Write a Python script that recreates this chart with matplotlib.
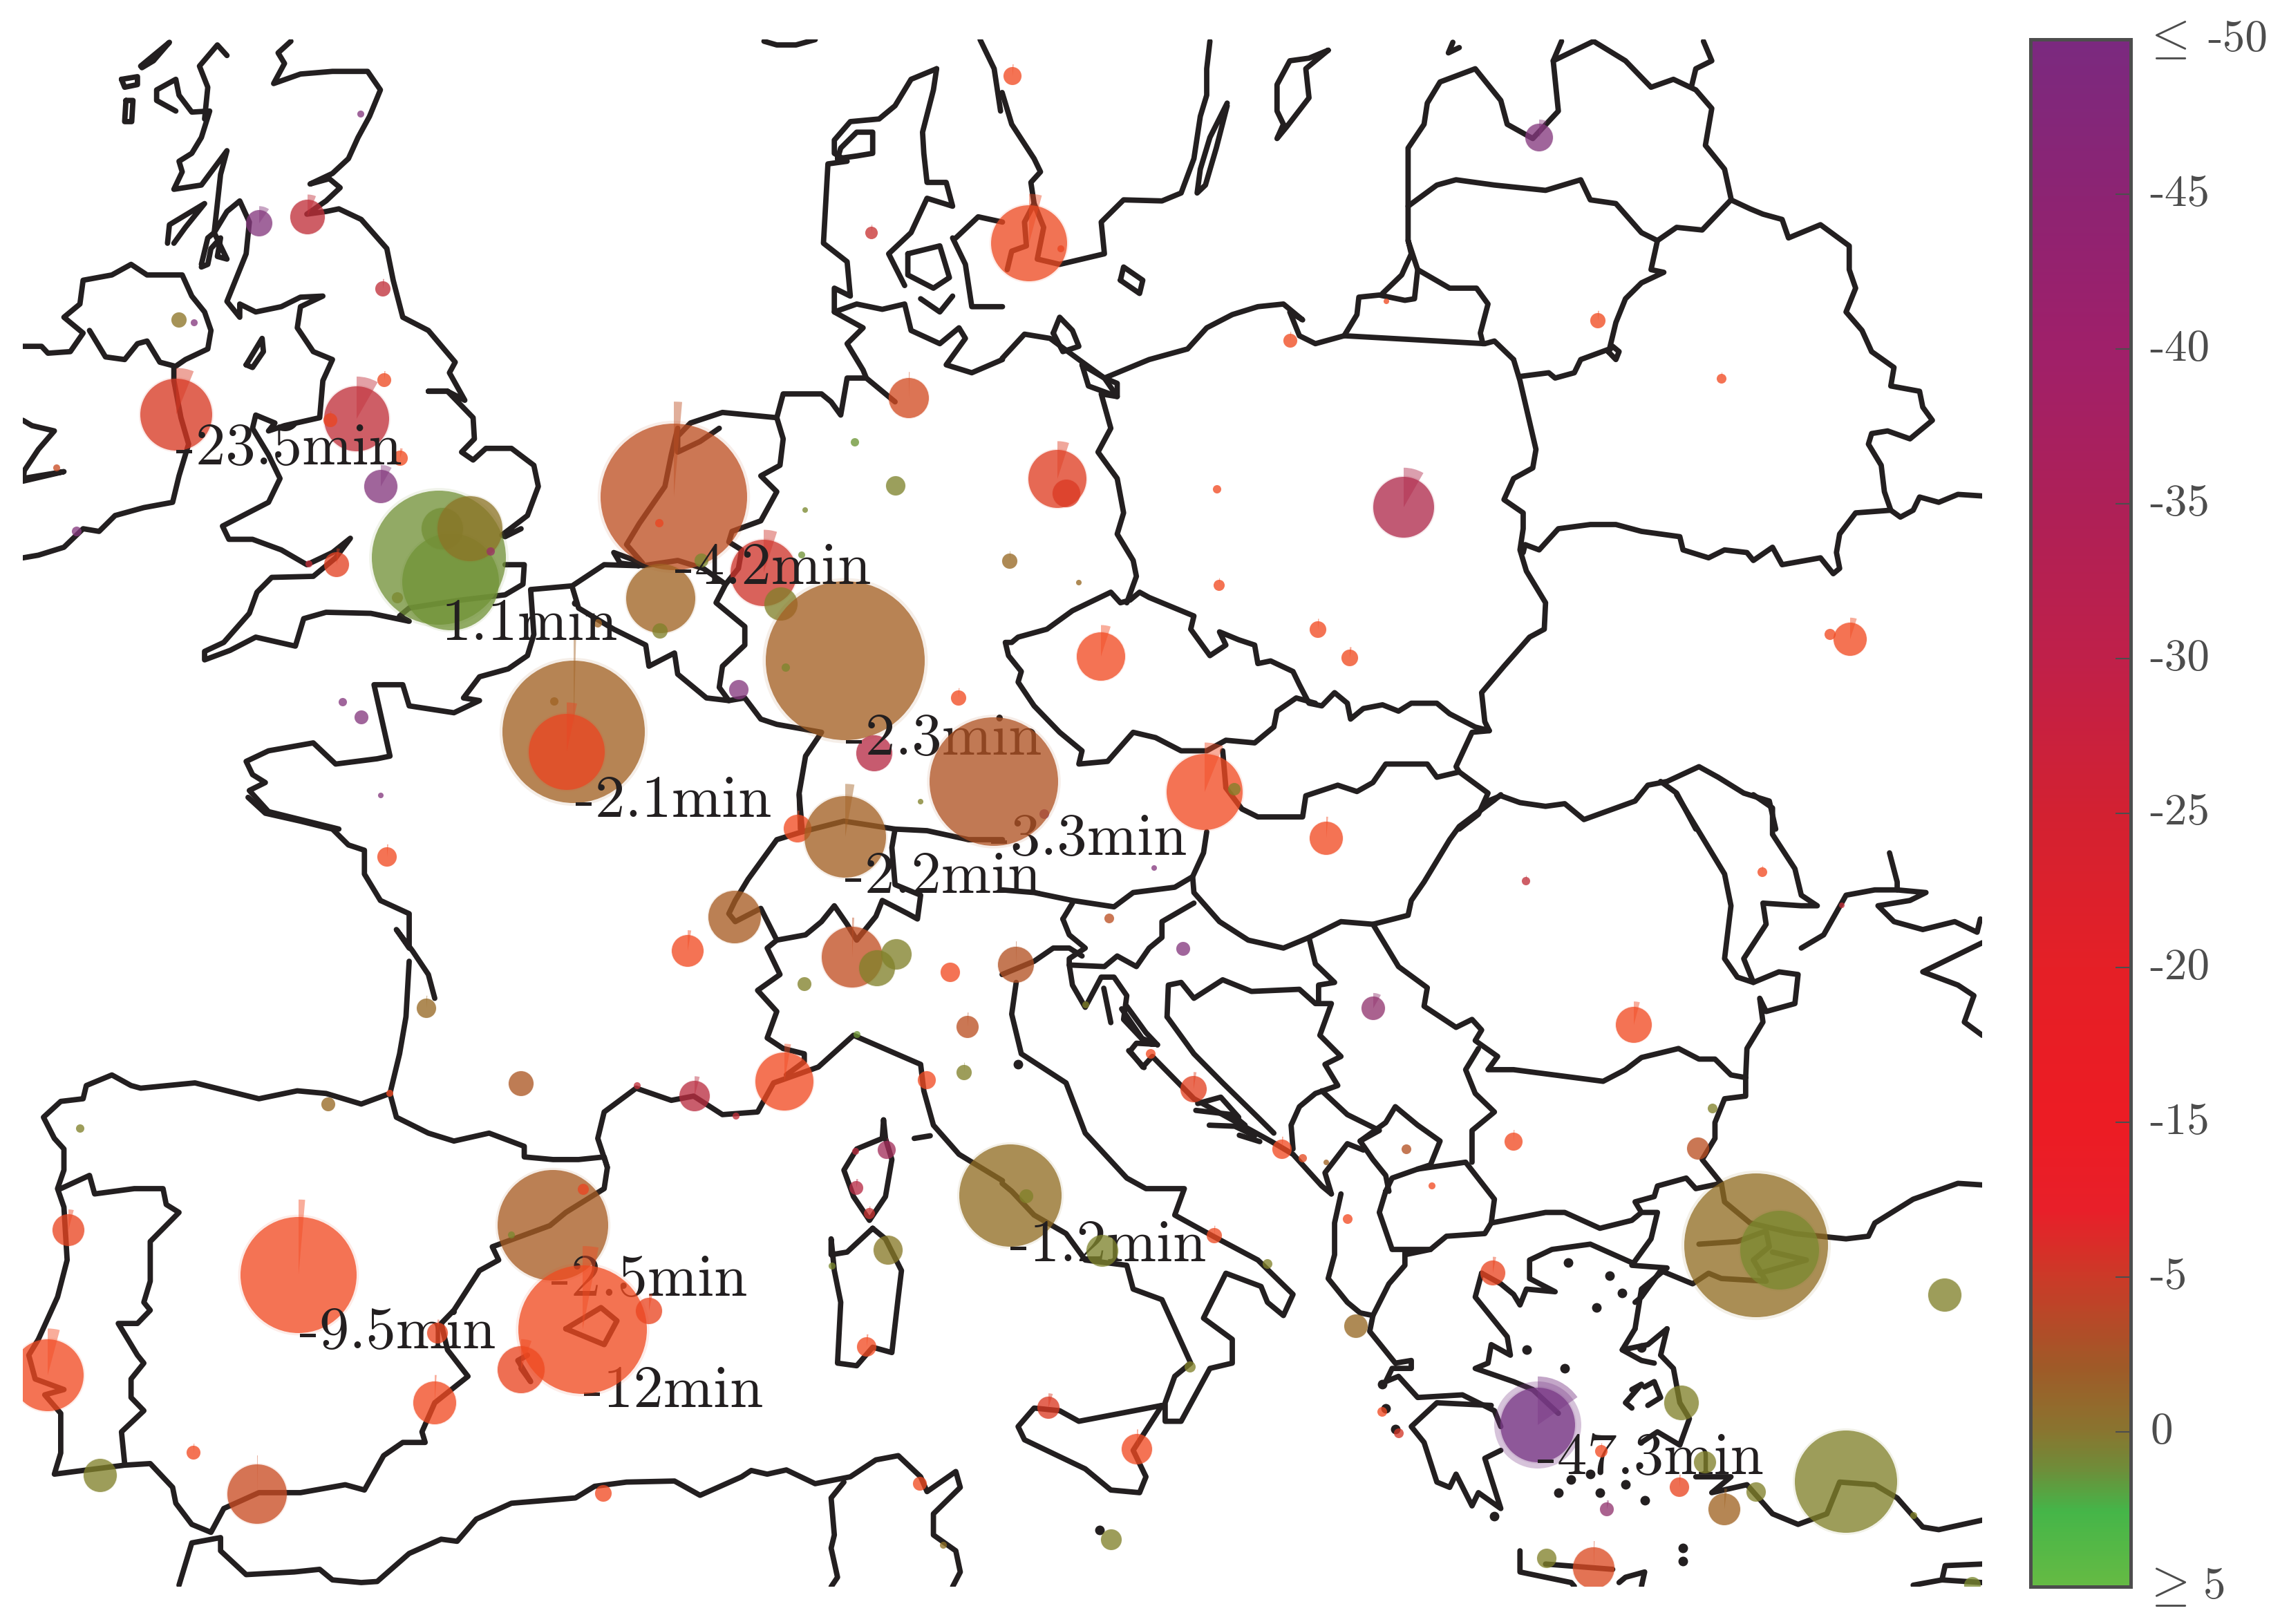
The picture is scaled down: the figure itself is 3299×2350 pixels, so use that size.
import numpy as np
import matplotlib
matplotlib.use('Agg')
import matplotlib.pyplot as plt
from matplotlib.colors import LinearSegmentedColormap, to_rgb
from matplotlib.patches import Circle, Wedge, Rectangle

plt.rcParams['font.family'] = ['cmr10', 'DejaVu Serif']
plt.rcParams['mathtext.fontset'] = 'cm'

coast_a = [
    [(455,78),(435,100),(445,120),(428,158),(470,140),(520,135),(575,135),(595,170),(578,220),(560,260),(545,300),(520,328),(485,348),(515,338),(532,355),(510,380),(480,405),(510,400),(530,395),(565,415),(605,470),(615,530),(630,600),(670,625),(712,685),(703,705),(727,757),(700,740),(670,740),(700,740),(740,790),(742,830),(722,855),(740,870),(760,848),(800,848),(835,880),(842,920),(825,975),(785,1012),(790,1015),(815,1000)],
    [(790,1068),(820,1068),(818,1105),(790,1125),(720,1135),(640,1150),(625,1165),(640,1175),(580,1160),(510,1158),(475,1170),(462,1222),(400,1205),(360,1230),(320,1248),(320,1232),(350,1215),(390,1160),(402,1120),(425,1092),(490,1090),(525,1055),(548,1018),(520,1045),(480,1068),(440,1040),(395,1020),(358,1020),(348,995),(380,975),(420,950),(438,905),(420,860),(395,810),(400,785),(430,800),(420,815),(445,805),(500,790),(505,720),(520,680),(490,665),(465,620),(470,580),(505,560),(470,562),(440,580),(400,590),(375,575),(375,600),(355,570),(385,480),(390,420),(375,380),(355,400),(335,440),(345,330),(355,285),(315,350),(272,358),(285,325),(280,305),(300,290),(315,260),(328,210),(300,212),(280,180),(275,150),(245,170),(245,190),(275,210)],
    [(320,225),(325,165),(312,125),(340,85),(355,105)],
    [(36,655),(65,655),(75,668),(110,665),(130,630),(100,600),(125,575),(130,530),(175,520),(205,500),(230,520),(285,520),(300,560),(320,590),(330,625),(325,660),(290,680),(272,695),(272,720),(283,790),(295,840),(280,900),(270,950),(225,960),(180,975),(155,1005),(130,1000),(100,1035),(60,1050),(36,1055)],
    [(140,625),(165,675),(195,680),(215,650),(230,645),(250,685),(272,692)],
    [(36,795),(50,805),(85,815),(60,850),(38,890),(36,910),(100,892),(60,900),(36,905)],
    [(190,150),(215,145),(215,160),(195,165),(190,150)],
    [(197,190),(208,190),(206,230),(195,230),(197,190)],
    [(220,125),(265,80),(240,115),(222,128)],
    [(385,690),(410,640),(412,665),(395,695),(385,690)],
    [(315,500),(325,450),(335,440),(355,490),(340,485),(345,450),(330,470),(325,500),(315,505)],
    [(262,460),(265,425),(320,385),(290,430),(272,460)],
    [(1533,75),(1555,130),(1565,210)],
    [(1195,78),(1215,85),(1245,85),(1275,75)],
    [(1465,130),(1425,150),(1400,200),(1375,225),(1330,230),(1305,265),(1305,290),(1325,305),(1295,310),(1288,460),(1325,495),(1330,560),(1305,545),(1305,590),(1340,575),(1380,585),(1415,575),(1425,625),(1470,650),(1500,620),(1510,640),(1480,690),(1520,705),(1568,680)],
    [(1465,130),(1460,170),(1443,250),(1445,290),(1450,345),(1480,345),(1490,390),(1450,375),(1425,440),(1390,480),(1415,540)],
    [(1310,300),(1340,295),(1365,290),(1365,250),(1340,250),(1315,280),(1310,300)],
    [(1305,590),(1350,620),(1325,650),(1350,700),(1355,715),(1400,760)],
    [(1355,715),(1325,715),(1315,785),(1300,760),(1285,745),(1225,745),(1215,790),(1130,780),(1080,800),(1060,825),(1060,855),(1095,835),(1125,810)],
    [(1215,790),(1225,830),(1220,880),(1190,900),(1215,930),(1190,985),(1145,1005),(1140,1025),(1160,1040),(1155,1075),(1135,1105)],
    [(1060,810),(1050,860),(1040,920),(1000,990),(980,1030),(1005,1065),(960,1045),(970,1065),(1000,1070),(945,1068),(895,1108),(830,1115),(835,1200),(825,1240),(795,1265),(750,1280),(725,1320),(750,1325),(710,1348),(640,1335),(630,1295),(585,1295),(610,1430),(590,1435),(525,1445),(490,1405),(420,1420),(385,1440),(395,1465),(415,1480),(390,1495),(420,1535),(530,1568)],
    [(895,1110),(905,1150),(960,1190),(1010,1220),(1015,1260),(1055,1235),(1060,1275),(1105,1320),(1140,1325),(1165,1320),(1190,1360),(1215,1370),(1285,1385),(1260,1430),(1250,1500),(1252,1568)],
    [(1005,1070),(1060,1060),(1100,1075),(1135,1105),(1120,1140),(1165,1185),(1165,1220),(1130,1260),(1125,1300),(1140,1325)],
    [(1420,480),(1470,465),(1485,525),(1460,545),(1420,520),(1420,480)],
    [(1495,450),(1530,410),(1568,420)],
    [(1490,450),(1510,500),(1520,580),(1568,580)],
    [(1440,565),(1470,590),(1490,560)],
]
coast_b = [
    [(325,78),(320,130),(320,180),(310,220),(300,300),(280,365),(250,380),(190,378),(155,420),(160,480),(125,490),(90,500),(55,490),(65,430),(50,385),(45,345),(60,325),(50,300),(15,235),(0,175)],
    [(50,385),(35,420),(38,465),(15,475),(8,510)],
    [(352,195),(325,260),(310,320),(305,365),(318,350),(335,280),(352,200)],
    [(510,95),(480,110),(450,115),(430,160),(430,210),(440,235),(430,262),(445,240),(480,185),(475,130),(510,95)],
    [(705,80),(698,100),(715,90)],
    [(185,530),(190,505),(220,530),(215,555),(185,530)],
    [(635,455),(635,280),(660,235),(665,195),(685,155),(740,130),(780,190),(790,235),(830,262),(870,210),(862,115),(925,78),(975,115),(1015,165),(1050,150),(1085,170),(1110,205),(1100,275),(1130,320),(1140,375)],
    [(1097,78),(1110,115),(1085,130),(1078,165)],
    [(875,78),(862,115)],
    [(635,390),(680,350),(710,340),(770,350),(850,360),(905,340),(920,378),(960,385),(1000,440),(1025,455),(1055,430),(1095,435),(1140,378)],
    [(1140,378),(1170,395),(1190,405),(1220,415),(1230,450),(1280,425),(1325,465),(1325,510),(1335,545),(1320,590),(1345,625),(1360,665),(1395,695),(1390,730),(1435,740),(1440,770),(1455,795),(1420,830),(1385,815),(1360,820),(1355,840),(1375,880),(1380,930),(1390,965),(1405,978),(1425,965),(1435,940),(1465,950),(1495,935),(1533,938)],
    [(1390,965),(1335,970),(1310,1010),(1305,1045),(1310,1075),(1300,1085),(1280,1055),(1220,1068),(1205,1035),(1175,1060),(1165,1045),(1130,1040),(1105,1055),(1065,1040),(1060,1015),(1000,1005),(960,992),(920,992),(870,1000),(840,1040),(818,1030),(815,1045)],
    [(1025,455),(1015,510),(1035,515),(1000,535),(975,565),(960,610),(950,660),(905,680),(895,705),(865,715),(855,705),(810,712)],
    [(948,665),(955,655),(965,665),(960,680),(948,665)],
    [(800,680),(810,720),(835,850),(830,885),(800,905),(785,945),(815,970),(815,1000),(810,1040),(820,1080),(850,1140),(848,1190),(825,1205),(785,1260),(750,1310),(755,1365),(762,1382),(740,1375),(700,1350),(680,1330),(640,1330),(620,1345),(595,1333),(565,1340),(545,1360),(540,1330),(520,1310),(500,1335),(480,1330),(465,1295),(455,1270),(420,1250),(400,1255),(395,1220),(370,1210),(340,1195),(350,1220),(325,1240),(295,1190),(300,1165),(230,1130),(215,1120),(200,1135),(185,1140),(170,1120),(110,1155),(70,1190),(25,1205),(15,1215),(5,1215),(10,1240),(30,1270),(25,1290),(50,1335),(90,1385),(125,1420),(120,1445),(165,1440),(205,1385),(240,1395),(280,1420),(320,1420),(350,1400),(395,1405),(425,1375),(430,1345),(460,1320),(490,1330)],
    [(800,680),(770,645),(755,650),(535,635),(490,650),(465,635),(450,590),(470,605),(440,575),(400,580),(360,595),(320,620),(290,660),(230,680),(160,715),(120,680),(75,640),(35,632),(0,678)],
    [(160,715),(180,750),(155,745),(170,810),(150,855),(180,905),(190,970),(180,1010),(205,1060),(210,1090),(195,1140)],
    [(125,690),(160,715),(180,725),(180,750),(135,730),(125,690)],
    [(80,630),(90,600),(110,625),(120,655),(95,665),(80,630)],
    [(535,635),(555,595),(558,562),(590,558),(630,568),(645,565),(650,510),(635,455),(640,480),(625,520),(595,555)],
    [(650,510),(700,545),(742,545),(760,575),(748,630),(752,650)],
    [(762,1382),(735,1385),(710,1450),(715,1460),(680,1470),(665,1445),(600,1445),(580,1480),(555,1497),(525,1485),(475,1505),(470,1545),(400,1545),(375,1530),(350,1490),(345,1420)],
    [(715,1460),(760,1500),(745,1540),(715,1568)],
    [(760,1515),(780,1505),(810,1518),(850,1525),(880,1520),(910,1550),(990,1515),(1010,1485),(1040,1478),(1090,1450),(1120,1470),(1160,1500),(1200,1515),(1210,1568)],
    [(1030,1478),(1055,1500),(1085,1568)],
]
coast_c = [
    [(388,5),(415,35),(470,50),(520,65),(545,95),(570,105),(570,150),(595,200),(640,225),(640,290),(620,255),(645,295),(670,340),(680,385)],
    [(640,315),(635,420),(625,490),(610,565),(565,585),(510,565),(465,560),(405,575),(305,545),(220,555),(205,550),(175,530),(135,550),(130,575),(95,580),(68,610),(85,650),(100,670),(100,710),(90,745),(100,780),(105,880),(90,950),(60,1030),(45,1060),(55,1105),(100,1125),(70,1135),(95,1170),(95,1245),(85,1285),(130,1278),(195,1268),(235,1265),(270,1310),(275,1340),(300,1380),(330,1395),(350,1350),(405,1320),(470,1320),(540,1305),(570,1315),(600,1250),(630,1225),(665,1225),(660,1205),(680,1150),(732,1100),(700,1050),(690,1000),(710,975),(750,900),(780,880),(770,855),(860,815),(885,790),(945,745),(950,705),(935,650),(945,600),(995,555),(1050,578),(1085,570),(1130,605),(1185,600),(1210,545),(1280,515),(1335,455),(1440,510),(1445,560),(1460,625),(1500,680),(1568,730)],
    [(95,745),(140,720),(148,755),(210,745),(255,745),(260,775),(280,790),(235,845),(235,920),(225,960),(235,975),(215,1000),(185,1000),(215,1060),(225,1075),(205,1105),(205,1140),(225,1165),(190,1205),(195,1265)],
    [(610,565),(620,610),(670,640),(710,655),(765,640),(820,665),(820,685),(865,690),(905,690),(945,685),(950,705)],
    [(1225,480),(1258,490),(1258,505),(1230,530)],
    [(1225,480),(1200,460),(1215,410),(1185,370),(1220,340),(1200,290),(1215,275),(1260,265),(1285,240),(1305,210),(1325,245),(1340,275),(1370,230),(1380,200),(1420,225),(1435,235),(1440,190),(1400,170),(1395,100),(1400,65)],
    [(1215,275),(1190,215),(1150,240),(1140,225),(1150,200),(1170,160),(1215,85),(1255,70),(1320,50),(1400,65),(1450,68),(1515,85),(1568,85)],
    [(1255,70),(1250,0)],
    [(1382,615),(1380,650),(1340,670),(1320,710),(1335,760),(1360,805),(1385,760),(1395,690),(1385,650),(1382,615)],
    [(1365,820),(1325,865),(1300,870),(1300,840),(1305,900),(1315,960),(1310,1075),(1340,1080),(1365,1045),(1395,1055),(1405,950),(1410,900),(1385,840),(1365,820)],
    [(1430,650),(1455,645)],
    [(885,1010),(940,970),(965,995),(945,1040),(905,1020),(885,1010)],
    [(825,1060),(810,1070),(830,1110),(815,1085)],
    [(280,1495),(300,1415),(345,1405),(345,1430),(385,1475),(460,1470),(500,1465),(520,1485),(565,1490),(590,1488),(640,1435),(690,1408),(715,1412),(745,1370),(800,1340),(900,1330),(930,1308),(980,1300),(1055,1298),(1095,1325),(1160,1290),(1175,1278),(1200,1285),(1230,1277),(1275,1303),(1330,1290),(1370,1258),(1405,1250),(1440,1290),(1450,1318),(1495,1280),(1502,1310),(1460,1360),(1460,1400),(1495,1430),(1502,1470),(1490,1498)],
    [(1320,1300),(1300,1330),(1305,1400),(1300,1425),(1310,1480),(1300,1498)],
]
coast_d = [
    [(320,70),(315,110),(298,155),(300,185),(340,240),(385,275),(440,290),(480,270),(530,240),(580,245),(635,228),(640,200),(660,165),(700,85),(715,60),(770,10),(780,0)],
    [(0,180),(50,185),(110,200),(175,212),(205,185),(270,175),(298,155)],
    [(95,235),(110,205)],
    [(95,235),(105,265),(130,290),(105,310),(105,322),(160,325),(180,305),(210,325),(230,290),(250,270),(250,240),(300,205)],
    [(0,340),(50,315),(80,290),(105,290),(125,305)],
    [(105,322),(110,360),(130,402),(155,345),(175,345),(195,380),(190,425),(225,470),(240,472),(210,470),(200,485),(220,515),(235,495),(300,575),(420,655),(455,680),(500,740),(515,755)],
    [(258,420),(260,360),(280,355),(300,385),(345,350),(390,372),(465,368),(490,395),(515,395),(497,455),(530,495),(505,510),(525,550),(490,565),(465,590),(452,625),(455,670)],
    [(258,420),(300,490),(345,545),(400,610),(425,640)],
    [(306,584),(342,572),(370,610)],
    [(303,597),(360,605),(380,625)],
    [(324,625),(364,627),(395,645)],
    [(371,644),(403,656)],
    [(187,405),(219,461),(243,473)],
    [(195,400),(225,450),(243,473)],
    [(198,484),(222,516)],
    [(159,366),(170,431)],
    [(480,270),(490,320),(520,355),(495,360),(495,395)],
    [(580,245),(620,325),(665,365),(660,400),(710,440),(735,425),(750,445),(740,465),(775,495),(760,520),(800,520),(940,542),(975,520),(1000,497),(1058,480),(1090,500),(1115,500),(1140,530),(1163,535)],
    [(1163,535),(1163,570),(1130,575),(1115,620),(1115,650),(1095,690),(1125,735),(1085,745),(1070,725),(1025,740),(1020,760),(990,770),(1000,790),(1025,790),(1015,840),(985,890),(1040,895),(1000,935),(990,1010)],
    [(745,480),(725,520),(740,565),(770,600),(735,635),(735,695)],
    [(600,750),(610,725),(650,708),(725,695),(770,765),(765,810),(755,830),(695,835),(670,860),(610,860),(590,790),(600,750)],
    [(765,810),(850,790),(880,790),(935,820),(985,805),(1000,790)],
    [(560,655),(600,620),(615,590),(650,625),(685,655),(670,700),(650,708)],
    [(500,560),(540,605),(590,635),(560,655),(580,690),(600,720),(605,750)],
    [(515,755),(505,715),(540,660),(565,672)],
    [(530,755),(520,810),(520,870),(510,915),(540,960),(560,980),(580,985),(605,925),(630,890),(630,865)],
    [(630,870),(670,860)],
    [(580,985),(575,1015),(615,1075),(640,1070),(640,1085),(610,1085),(600,1110),(620,1100),(650,1140),(720,1135),(770,1165),(780,1195)],
    [(765,1155),(680,1150),(640,1195),(660,1225),(680,1300),(700,1310),(710,1285),(735,1345),(745,1320),(780,1350),(755,1255),(780,1240)],
    [(750,905),(740,950),(790,1025),(795,1060),(765,1040),(760,1075),(740,1085),(800,1110),(830,1125),(870,1170)],
    [(750,905),(780,925),(800,945),(810,965),(820,935),(865,940),(825,915),(825,880),(860,860),(920,850),(985,885)],
    [(1040,1010),(1030,1060),(1050,1085),(1060,1150),(1075,1180),(1060,1230),(1025,1205),(1000,1225)],
    [(990,1010),(970,1050),(1010,1040),(1040,1010)],
    [(1085,1290),(1140,1290),(1110,1320),(1165,1305),(1205,1360),(1245,1380),(1290,1360),(1310,1300),(1365,1305),(1400,1330),(1440,1385),(1465,1390),(1533,1372)],
    [(1125,735),(1130,770),(1170,810),(1240,830),(1320,840),(1355,835),(1365,810),(1425,765),(1495,735),(1533,738)],
    [(1090,850),(1150,845),(1195,825),(1200,855),(1175,880),(1195,920),(1125,915),(1105,905),(1080,925),(1030,900),(1000,950),(990,960)],
    [(1205,865),(1258,880),(1185,905)],
    [(810,1430),(810,1470),(890,1490),(895,1497)],
    [(850,1455),(955,1465)],
    [(965,1490),(975,1480),(1005,1470),(1000,1497)],
    [(1425,1495),(1470,1485),(1475,1458),(1533,1455)],
    [(1470,1485),(1533,1490)],
    [(1055,0),(1090,70),(1130,150),(1140,210),(1130,310),(1150,345),(1175,355),(1215,335),(1245,340),(1240,395),(1195,410),(1185,385),(1190,430),(1165,480),(1163,535)],
    [(1175,0),(1205,25),(1205,75),(1240,140),(1250,190),(1275,210),(1250,210),(1190,205),(1195,245),(1160,310),(1175,355)],
    [(1250,290),(1285,265),(1320,190),(1365,180),(1400,180),(1445,185),(1420,200),(1370,210),(1395,240),(1440,255),(1490,240),(1525,260),(1530,235)],
    [(1388,110),(1400,165),(1400,180)],
    [(1533,280),(1440,335),(1495,360),(1520,380),(1505,430),(1533,455)],
    [(22,355),(15,415),(30,490),(100,545),(130,640),(195,725),(225,745),(285,745),(270,795),(330,835),(400,880),(455,945),(440,985),(415,960),(405,930),(350,905),(315,990),(360,1030),(360,1075),(325,1085),(280,1185),(255,1185),(255,1150),(270,1100),(295,1075),(250,955),(205,935),(195,890),(130,880),(100,830),(50,795),(15,750),(0,735)],
    [(250,1155),(120,1185),(90,1165),(50,1160),(25,1195),(35,1220),(130,1275),(170,1315),(215,1320),(225,1290),(205,1240),(250,1155)],
    [(985,1125),(1000,1115),(975,1150),(985,1160)],
    [(1005,1120),(1020,1110),(1030,1140),(1010,1155)],
    [(970,1050),(1000,1070),(1020,1075)],
]
island_x = [885, 950, 970, 930, 1000, 820, 880, 770, 870, 935, 1005, 975, 920, 890, 595, 600, 615, 25, 152, 1065, 1065]
island_y = [885, 910, 942, 970, 1045, 1050, 1085, 1365, 1320, 1320, 1335, 1305, 1285, 1295, 1115, 1160, 1200, 510, 1390, 1425, 1450]

# bubbles in map pixels: x, y, radius, delay in minutes, spike opening in degrees
bubble_x = [255, 375, 445, 554, 522, 259, 281, 516, 556, 478,
            579, 551, 635, 652, 640, 680, 710, 487, 447, 575,
            111, 82, 975, 954, 956, 955, 865, 1015, 1105, 1130,
            1160, 1223, 1137, 1069, 1315, 1237, 1296, 1165, 830, 820,
            802, 496, 523, 551, 1387, 1265, 1332, 1154, 1223, 1438,
            1465, 1489, 1535, 1261, 2227, 2006, 1867, 2312, 2491, 1530,
            1543, 2031, 1761, 1461, 1561, 1764, 1907, 1953, 1593, 2677,
            2648, 1743, 1786, 1511, 1919, 1670, 2208, 2550, 2665, 1605,
            1712, 1987, 1470, 2364, 1571, 1665, 1727, 1855, 1885, 1919,
            2035, 2072, 1950, 2190, 2478, 2457, 2541, 2575, 2814, 1462,
            1485, 1757, 1595, 1834, 2160, 1962, 1722, 1517, 1645, 1608,
            2000, 2024, 2225, 2433, 2317, 2467, 2430, 2541, 2495, 2671,
            2769, 2325, 2238, 2306, 2854, 560, 617, 754, 1063, 995,
            1233, 1269, 1297, 1164, 1375, 1400, 1240, 1395, 1341, 1135,
            1005, 922, 1065, 564, 475, 116, 800, 844, 740, 843,
            939, 754, 99, 432, 633, 629, 69, 280, 372, 145,
            873, 1283, 1238, 1239, 1258, 1285, 1204, 1254, 1331, 1365]
bubble_y = [600, 323, 314, 418, 165, 463, 467, 606, 550, 608,
            663, 704, 807, 842, 765, 765, 798, 817, 816, 865,
            769, 677, 719, 757, 866, 913, 902, 811, 829, 874,
            803, 956, 966, 998, 576, 640, 703, 738, 1059, 1088,
            1015, 1016, 1038, 1151, 1010, 1090, 1160, 1199, 1211, 1131,
            110, 352, 360, 337, 199, 436, 493, 464, 548, 693,
            714, 734, 708, 812, 843, 847, 911, 952, 950, 925,
            918, 1146, 1142, 1178, 1213, 1256, 1275, 1262, 1310, 1329,
            1373, 1459, 1396, 1483, 1454, 1525, 1576, 1663, 1676, 1682,
            1663, 1716, 1764, 1652, 1604, 1662, 1802, 1809, 1874, 1730,
            1731, 1788, 1810, 1829, 1842, 1919, 1978, 2037, 2097, 2228,
            2043, 2074, 2062, 2030, 2100, 2116, 2152, 2159, 2184, 2144,
            2193, 2184, 2255, 2269, 2294, 1240, 1459, 1568, 1327, 1376,
            1385, 1401, 1381, 1424, 1407, 1486, 1497, 1552, 1563, 1565,
            1586, 1571, 1615, 1582, 1598, 1633, 1773, 1721, 1787, 1924,
            1897, 1982, 1780, 1845, 1929, 2030, 1990, 2102, 2162, 2135,
            2161, 1664, 1666, 1719, 1756, 1809, 1832, 1949, 2147, 2236]
bubble_r = [52, 19, 25, 11, 5, 11, 5, 47, 10, 10,
            11, 24, 97, 70, 30, 47, 6, 18, 5, 8,
            7, 5, 106, 6, 50, 11, 6, 10, 48, 24,
            5, 115, 6, 14, 29, 6, 14, 4, 103, 55,
            6, 6, 10, 4, 11, 26, 4, 20, 59, 93,
            13, 55, 5, 9, 20, 4, 10, 11, 7, 42,
            20, 44, 6, 11, 4, 8, 12, 12, 35, 24,
            8, 55, 9, 7, 24, 4, 6, 7, 4, 7,
            10, 17, 26, 26, 5, 7, 19, 14, 6, 4,
            7, 5, 7, 13, 7, 16, 104, 57, 24, 74,
            10, 11, 23, 7, 18, 17, 8, 16, 22, 15,
            7, 7, 54, 25, 9, 16, 14, 14, 23, 74,
            5, 10, 14, 30, 12, 14, 14, 18, 38, 23,
            44, 26, 22, 10, 14, 16, 5, 11, 13, 42,
            22, 5, 5, 5, 10, 6, 80, 8, 5, 93,
            19, 34, 23, 84, 15, 31, 52, 10, 43, 24,
            12, 13, 5, 10, 8, 21, 5, 14, 10, 5]
bubble_delay = [-23.5, -45, -30, -30, -45, -0.8, -45, -30, -9, -15,
                -12, -45, 1.1, 1.5, 1.0, -0.8, -40, -18, -30, 0.5,
                -45, -5, -4.2, -15, -2, 0, -2, 0.5, -26, 0,
                1.5, -2.3, 0.3, -45, -6, 2.5, 0.2, 0.5, -2.1, -15,
                -2, -45, -45, -45, -11, -33, 0, -11, -2.2, -3.3,
                -10, -9, -15, -28, -45, -9, -12, -12, -10, -20,
                -22, -35, -10, -1.5, -1.5, -11, -10, -12, -10, -11,
                -11, -9.5, 0, -45, -9.5, -45, -30, -10, -30, -4,
                -45, -42, -3.5, -10, 0, -10, -18, -10, -8, -2,
                -3.5, -10, -10, -10, 0, -4, -1.2, 0.5, 0, -1.2,
                0, -9, 0.2, 0, -15, -1.5, 0, -22, -10, 0,
                -10, -25, -47.3, 0, -10, 0, -15, 0, -2, 0,
                0, -42, 0, -7, 0.5, -10, -1.5, -3, -2.5, -10,
                -4.5, 0, 0, 0, -10, -4, 2, 0, -10, -10,
                -32, -30, -30, -10, -1.5, 0, -2.5, -15, 0.5, -12,
                -15, -15, -15, -9.5, -15, -10, -10, -10, -5, 0,
                -10, -38, -32, -33, -28, -0.5, 0.5, -10, -12, -1]
spike_deg = [22, 35, 22, 8, 0, 0, 0, 30, 8, 6,
             15, 30, 0, 0, 0, 0, 0, 12, 0, 0,
             0, 0, 5, 0, 0, 0, 0, 0, 18, 0,
             0, 0, 0, 0, 2, 0, 0, 0, 1.5, 12,
             0, 0, 0, 0, 6, 0, 0, 6, 10, 0,
             6, 15, 0, 6, 25, 0, 6, 8, 6, 18,
             0, 30, 0, 4, 0, 6, 6, 10, 18, 18,
             0, 22, 0, 0, 5, 0, 8, 6, 0, 0,
             0, 30, 2, 15, 0, 0, 10, 6, 0, 0,
             0, 0, 0, 5, 0, 0, 0, 0, 0, 0,
             0, 6, 0, 0, 12, 0, 0, 18, 4, 0,
             0, 0, 55, 0, 6, 0, 6, 0, 8, 0,
             0, 15, 0, 2, 0, 6, 4, 0, 0, 10,
             3, 0, 0, 0, 0, 4, 0, 4, 0, 10,
             15, 0, 0, 0, 0, 0, 0, 0, 0, 11,
             12, 20, 15, 5, 8, 4, 15, 6, 1, 0,
             0, 8, 0, 12, 8, 0, 0, 8, 0, 0]
over_labels = [49, 149, 150, 154, 102, 115, 114, 116]

label_text = ['-23.5min', '1.1min', '-4.2min', '-2.3min', '-2.1min', '-2.2min', '-3.3min',
              '-12min', '-9.5min', '-2.5min', '-1.2min', '-47.3min']
label_x = [254, 638, 976, 1223, 832, 1222, 1433, 844, 433, 797, 1461, 2224]
label_y = [672, 926, 845, 1092, 1182, 1292, 1237, 2036, 1951, 1875, 1825, 2133]

# delay to bubble colour
delay_stops = [-50, -47, -35, -23.5, -12, -9.5, -5, -3.3, -2.2, -1.2, 0, 1.1, 5]
delay_colors = ['#6a2a80', '#7c3c88', '#b02a4c', '#d83823', '#f04a20', '#f24a22', '#ca4c23',
                '#b05223', '#a36023', '#926d24', '#81812a', '#739238', '#5f9e30']

# colour bar
bar_labels = ['5', '0', '-5', '-15', '-20', '-25', '-30', '-35', '-40', '-45', '-50']
bar_stops = [0, 0.048, 0.075, 0.1, 0.142, 0.2, 0.242, 0.3, 0.4, 0.5, 0.6, 0.7, 0.8, 0.9, 1.0]
bar_colors = ['#66bb44', '#45b649', '#6f8e3a', '#8a7530', '#a05a28', '#cc3a28', '#e8202a', '#ed1c24',
              '#e52027', '#d32232', '#c0204a', '#ae2058', '#a0206a', '#8d2473', '#7b2a80']


def bubble_color(d):
    rgb = np.array([to_rgb(c) for c in delay_colors])
    return tuple(np.interp(d, delay_stops, rgb[:, i]) for i in range(3))


def main():
    W, H = 3299, 2350
    fig = plt.figure(figsize=(W / 100, H / 100), dpi=100)
    ax = fig.add_axes([0, 0, 1, 1])
    ax.set_xlim(0, W)
    ax.set_ylim(H, 0)
    ax.axis('off')
    box = Rectangle((33, 57), 2835, 2239, transform=ax.transData)

    tiles = [(coast_a, 0, 0), (coast_b, 1450, 0), (coast_c, 0, 1150), (coast_d, 1450, 1150)]
    for lines, ox, oy in tiles:
        for line in lines:
            pts = np.array(line, dtype=float)
            l, = ax.plot(ox + pts[:, 0] / 1.081, oy + pts[:, 1] / 1.307, color='#231f20', lw=5.6,
                         solid_joinstyle='round', solid_capstyle='round', zorder=1)
            l.set_clip_path(box)
    ax.plot(1450 + np.array(island_x) / 1.081, 1150 + np.array(island_y) / 1.307, 'o', ms=9,
            color='#231f20', zorder=1)

    for t, x, y in zip(label_text, label_x, label_y):
        ax.text(x, y, t, fontsize=62.5, color='#231f20', ha='left', va='baseline', zorder=3)

    for i in range(len(bubble_x)):
        x, y, r = bubble_x[i], bubble_y[i], bubble_r[i]
        c = bubble_color(bubble_delay[i])
        z = 4 if i in over_labels else 2
        patches = [Circle((x, y), r * 1.04, fc=c, ec='none', alpha=0.1, zorder=z),
                   Circle((x, y), r, fc=c, ec='none', alpha=0.75, zorder=z)]
        if spike_deg[i] > 0:
            patches.append(Wedge((x, y), r * 1.3, 270, 270 + spike_deg[i], fc=c, ec='none',
                                 alpha=0.45, zorder=z))
        for p in patches:
            ax.add_patch(p)
            p.set_clip_path(box)
    athens = bubble_delay.index(-47.3)
    ax.add_patch(Circle((bubble_x[athens], bubble_y[athens]), 63, fc=bubble_color(-47.3),
                        ec='none', alpha=0.3, zorder=2))

    cax = fig.add_axes([2937.5 / W, 1 - 2296 / H, 145.5 / W, 2239 / H])
    cmap = LinearSegmentedColormap.from_list('delay', list(zip(bar_stops, bar_colors)), N=512)
    cax.imshow(np.linspace(0, 1, 512)[:, None], cmap=cmap, origin='lower', aspect='auto',
               extent=[0, 1, 0, 10])
    cax.set_xticks([])
    cax.yaxis.tick_right()
    cax.set_yticks(range(1, 10))
    cax.set_yticklabels([])
    cax.tick_params(axis='y', direction='in', length=16, width=1.5, color='#4d4d4d')
    for s in cax.spines.values():
        s.set_color('#4d4d4d')
        s.set_linewidth(3.6)

    # labels sit on their ticks, the end ones carry the sign
    for i, t in enumerate(bar_labels):
        y = 2296 - i * 223.9 + 1
        lx = 3110
        if i == 0:
            lx = 3188
            ax.text(3100, y, r'$\geq$', fontsize=52, color='#4d4d4d', va='center')
        elif i == 10:
            lx = 3194
            ax.text(3100, y, r'$\leq$', fontsize=52, color='#4d4d4d', va='center')
        elif t == '0':
            lx = 3112
        ax.text(lx, y, t, fontsize=47, color='#4d4d4d', va='center')

    fig.savefig('out.png', dpi=100)


main()
